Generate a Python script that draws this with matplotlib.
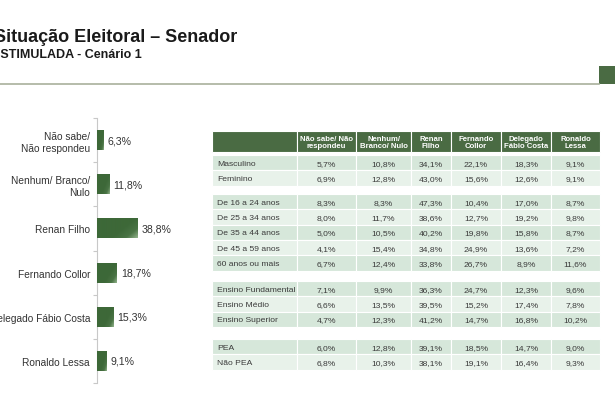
import numpy as np
import matplotlib
matplotlib.use("Agg")
import matplotlib.pyplot as plt
from matplotlib.patches import Rectangle
from matplotlib.colors import LinearSegmentedColormap

plt.rcParams['font.family'] = ['Liberation Sans', 'DejaVu Sans']

# ---------------- data ----------------
bar_labels = ["Não sabe/\nNão respondeu", "Nenhum/ Branco/\nNulo", "Renan Filho",
              "Fernando Collor", "Delegado Fábio Costa", "Ronaldo Lessa"]
bar_values = [6.3, 11.8, 38.8, 18.7, 15.3, 9.1]

col_headers = ["Não sabe/ Não\nrespondeu", "Nenhum/\nBranco/ Nulo", "Renan\nFilho",
               "Fernando\nCollor", "Delegado\nFábio Costa", "Ronaldo\nLessa"]
row_groups = [
    ["Masculino", "Feminino"],
    ["De 16 a 24 anos", "De 25 a 34 anos", "De 35 a 44 anos", "De 45 a 59 anos", "60 anos ou mais"],
    ["Ensino Fundamental", "Ensino Médio", "Ensino Superior"],
    ["PEA", "Não PEA"],
]
nao_sabe = [5.7, 6.9, 8.3, 8.0, 5.0, 4.1, 6.7, 7.1, 6.6, 4.7, 6.0, 6.8]
nenhum   = [10.8, 12.8, 8.3, 11.7, 10.5, 15.4, 12.4, 9.9, 13.5, 12.3, 12.8, 10.3]
renan    = [34.1, 43.0, 47.3, 38.6, 40.2, 34.8, 33.8, 36.3, 39.5, 41.2, 39.1, 38.1]
collor   = [22.1, 15.6, 10.4, 12.7, 19.8, 24.9, 26.7, 24.7, 15.2, 14.7, 18.5, 19.1]
fabio    = [18.3, 12.6, 17.0, 19.2, 15.8, 13.6, 8.9, 12.3, 17.4, 16.8, 14.7, 16.4]
lessa    = [9.1, 9.1, 8.7, 9.8, 8.7, 7.2, 11.6, 9.6, 7.8, 10.2, 9.0, 9.3]
table_cols = [nao_sabe, nenhum, renan, collor, fabio, lessa]

def fmt(v):
    return f"{v:.1f}%".replace(".", ",")

# ---------------- figure ----------------
W, H = 615, 410
fig = plt.figure(figsize=(W / 100, H / 100), dpi=100)
fig.patch.set_facecolor("white")

# background overlay axes in pixel coordinates
bg = fig.add_axes([0, 0, 1, 1])
bg.set_xlim(0, W)
bg.set_ylim(H, 0)
bg.axis("off")

DARK = "#4a6b43"
bg.text(-6, 42, "Situação Eleitoral – Senador", fontsize=13, fontweight="bold",
        color="#1a1a1a", va="baseline", ha="left")
bg.text(-8, 58, "ESTIMULADA - Cenário 1", fontsize=9, fontweight="bold",
        color="#1a1a1a", va="baseline", ha="left")
bg.plot([0, 599], [84.5, 84.5], color="#a9b09c", lw=1.2)
bg.add_patch(Rectangle((599, 67), 16, 17.5, facecolor=DARK, edgecolor="none"))

# ---------------- bar chart ----------------
ax_left, ax_top, ax_bot = 97, 119, 384
ax = fig.add_axes([ax_left / W, (H - ax_bot) / H, 103 / W, (ax_bot - ax_top) / H])
ypos = np.arange(len(bar_values))
bars = ax.barh(ypos, bar_values, height=0.45, color="#3f6a3a", edgecolor="none")

# gradient overlay on each bar
cmap = LinearSegmentedColormap.from_list("g", ["#3d6838", "#4a7445", "#a0bf99"])
gx = np.linspace(0, 1, 200)
gy = np.linspace(0, 1, 60)
GX, GY = np.meshgrid(gx, gy)
grad = np.clip((GX * 1.0 + GY * 0.6 - 0.95) / 0.7, 0, 1)
for b in bars:
    x0, y0, w, h = b.get_x(), b.get_y(), b.get_width(), b.get_height()
    im = ax.imshow(grad, extent=[x0, x0 + w, y0 + h, y0], cmap=cmap, vmin=0, vmax=1,
                   aspect="auto", origin="upper", zorder=3)
    im.set_clip_path(b)

ax.set_xlim(0, 98)
ax.set_ylim(len(bar_values) - 0.5, -0.5)
for y, v in zip(ypos, bar_values):
    ax.text(v + 4, y, fmt(v), va="center", ha="left", fontsize=7.6, color="#333333")

ax.set_yticks(ypos)
ax.set_yticklabels(bar_labels, fontsize=7.3, color="#333333", linespacing=1.2)
ax.tick_params(axis="y", which="major", length=0, pad=5)
ax.set_yticks(np.arange(-0.5, len(bar_values), 1.0), minor=True)
ax.tick_params(axis="y", which="minor", length=3, color="#c8c8c8", width=0.8, direction="out")
ax.set_xticks([])
for s in ["top", "right", "bottom"]:
    ax.spines[s].set_visible(False)
ax.spines["left"].set_color("#c8c8c8")
ax.spines["left"].set_linewidth(0.8)
ax.patch.set_alpha(0)

# ---------------- table ----------------
col_edges = [212, 297, 356, 411, 451, 501, 551, 600]
hdr_top, hdr_bot = 132, 153
row_h = 15.3
group_starts = [156, 195, 282, 340]
C_DARK = "#d6e7da"
C_LIGHT = "#e8f2ea"
TXT = "#3a3a3a"

# header
for c in range(len(col_edges) - 1):
    x0, x1 = col_edges[c], col_edges[c + 1]
    bg.add_patch(Rectangle((x0, hdr_top), x1 - x0, hdr_bot - hdr_top,
                           facecolor=DARK, edgecolor="white", lw=0.8))
    if c > 0:
        bg.text((x0 + x1) / 2, (hdr_top + hdr_bot) / 2 + 0.5, col_headers[c - 1],
                ha="center", va="center", fontsize=5.6, fontweight="bold",
                color="white", linespacing=1.05)

k = 0
for g, rows in enumerate(row_groups):
    y = group_starts[g]
    for i, lab in enumerate(rows):
        fc = C_DARK if i % 2 == 0 else C_LIGHT
        for c in range(len(col_edges) - 1):
            x0, x1 = col_edges[c], col_edges[c + 1]
            bg.add_patch(Rectangle((x0, y), x1 - x0, row_h, facecolor=fc,
                                   edgecolor="white", lw=0.8))
        bg.text(col_edges[0] + 5, y + row_h / 2 + 0.5, lab, ha="left", va="center",
                fontsize=6.1, color=TXT)
        for c, col in enumerate(table_cols):
            x0, x1 = col_edges[c + 1], col_edges[c + 2]
            bg.text((x0 + x1) / 2, y + row_h / 2 + 0.5, fmt(col[k]), ha="center",
                    va="center", fontsize=6.1, color=TXT)
        y += row_h
        k += 1

fig.savefig("out.png", dpi=100, facecolor="white")
